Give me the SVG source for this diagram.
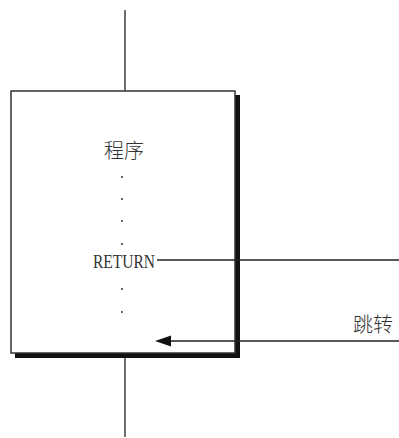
<svg xmlns="http://www.w3.org/2000/svg" width="399" height="438" viewBox="0 0 399 438">
<style>
.ln{stroke:#222;stroke-width:1.3;fill:none}
.cjk{font-family:"Liberation Serif","Noto Sans CJK SC",serif;font-size:20px;font-weight:300;fill:#333}
.dot{fill:#333}
.ser{font-family:"Liberation Serif",serif;font-size:19px;fill:#333}
</style>
<g id="connectors">
<line class="ln" x1="125" y1="10" x2="125" y2="91"/>
<line class="ln" x1="125" y1="358" x2="125" y2="437"/>
</g>
<g id="program">
<rect x="15" y="95" width="225" height="263" fill="#111"/>
<rect x="11" y="91" width="224" height="262" fill="#fff" stroke="#333" stroke-width="1.5"/>
<text class="cjk" x="124" y="158" text-anchor="middle">程序</text>
<circle class="dot" cx="122" cy="177" r="1"/>
<circle class="dot" cx="122" cy="199" r="1"/>
<circle class="dot" cx="122" cy="221" r="1"/>
<circle class="dot" cx="122" cy="244" r="1"/>
<text class="ser" x="93" y="268" textLength="62" lengthAdjust="spacingAndGlyphs">RETURN</text>
<circle class="dot" cx="122" cy="289" r="1"/>
<circle class="dot" cx="122" cy="312" r="1"/>
</g>
<g id="links">
<line class="ln" x1="157" y1="260" x2="399" y2="260"/>
<line class="ln" x1="170" y1="341" x2="399" y2="341"/>
<path d="M155,341 L171,335.5 L171,346.5 Z" fill="#111"/>
</g>
<g id="jump-label">
<text class="cjk" x="353" y="332">跳转</text>
</g>
</svg>
